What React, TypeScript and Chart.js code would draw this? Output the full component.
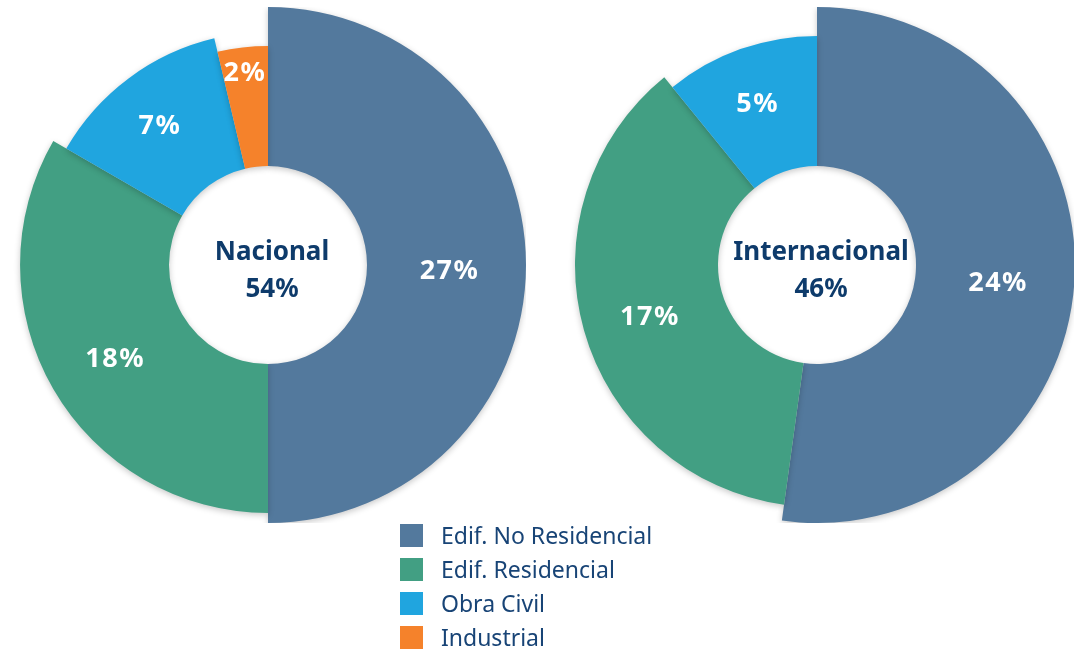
import React, { useEffect, useRef } from "react";
import { Chart, registerables } from "chart.js";

Chart.register(...registerables);

// ---- data ----
const categories = ["Edif. No Residencial", "Edif. Residencial", "Obra Civil", "Industrial"];
const nacionalValues = [27, 18, 7, 2];
const internacionalValues = [24, 17, 5];
const chartTitles = ["Nacional", "Internacional"];

// ---- style ----
const sliceColors = ["#53799d", "#429f83", "#20a5df", "#f5822b"];
const nacionalRadiusScale = [1, 0.961, 0.903, 0.849];
const internacionalRadiusScale = [1, 0.938, 0.888];
const NAVY = "#0e3b6b";
const FONT = "'Noto Sans', 'Open Sans', sans-serif";

function makeConfig(values: number[], radiusScale: number[], title: string) {
  const total = values.reduce((a, b) => a + b, 0);
  const varRadius = {
    id: "varRadius",
    afterDatasetsUpdate(chart: any) {
      const meta = chart.getDatasetMeta(0);
      meta.data.forEach((arc: any, i: number) => {
        const base = Math.min(chart.chartArea.width, chart.chartArea.height) / 2;
        arc.outerRadius = base * radiusScale[i];
      });
    },
  };
  const shadow = {
    id: "shadow",
    beforeDatasetsDraw(chart: any) {
      const ctx = chart.ctx;
      ctx.save();
      ctx.shadowColor = "rgba(0,0,0,0.22)";
      ctx.shadowBlur = 6;
      ctx.shadowOffsetX = 0;
      ctx.shadowOffsetY = 2;
    },
    afterDatasetsDraw(chart: any) {
      chart.ctx.restore();
    },
  };
  const labels = {
    id: "labels",
    afterDraw(chart: any) {
      const ctx = chart.ctx;
      const meta = chart.getDatasetMeta(0);
      ctx.save();
      ctx.textAlign = "center";
      ctx.textBaseline = "middle";
      ctx.fillStyle = "#ffffff";
      ctx.font = `bold 27px ${FONT}`;
      try { (ctx as any).letterSpacing = "1.5px"; } catch (e) {}
      meta.data.forEach((arc: any, i: number) => {
        const p = arc.getProps(["x", "y", "startAngle", "endAngle", "innerRadius", "outerRadius"], true);
        const mid = (p.startAngle + p.endAngle) / 2;
        const span = p.endAngle - p.startAngle;
        let r = (p.innerRadius + p.outerRadius) / 2 + 3;
        if (span < 0.35) r = p.outerRadius - 20;
        else if (span < 0.9) r = p.outerRadius - 52;
        const x = p.x + Math.cos(mid) * r;
        const y = p.y + Math.sin(mid) * r + 6;
        ctx.fillText(`${values[i]}%`, x, y);
      });
      try { (ctx as any).letterSpacing = "0px"; } catch (e) {}
      const c = meta.data[0];
      ctx.fillStyle = NAVY;
      ctx.font = `bold 26px ${FONT}`;
      ctx.fillText(title, c.x + 4, c.y - 12);
      ctx.fillText(`${total}%`, c.x + 4, c.y + 25);
      ctx.restore();
    },
  };
  return {
    type: "doughnut" as const,
    data: {
      labels: categories.slice(0, values.length),
      datasets: [
        {
          data: values,
          backgroundColor: sliceColors.slice(0, values.length),
          borderWidth: 0,
        },
      ],
    },
    options: {
      animation: false as const,
      responsive: false,
      maintainAspectRatio: false,
      events: [],
      cutout: 99,
      layout: { padding: 0 },
      plugins: {
        legend: { display: false },
        tooltip: { enabled: false },
      },
    },
    plugins: [varRadius, shadow, labels],
  };
}

function Donut({ values, radiusScale, title, left }: any) {
  const ref = useRef<HTMLCanvasElement>(null);
  useEffect(() => {
    const chart = new Chart(ref.current as HTMLCanvasElement, makeConfig(values, radiusScale, title) as any);
    return () => chart.destroy();
  }, []);
  return (
    <canvas
      ref={ref}
      width={516}
      height={516}
      style={{ position: "absolute", left, top: 7, width: 516, height: 516 }}
    />
  );
}

export default function App() {
  return (
    <div
      style={{
        position: "absolute",
        left: 0,
        top: 0,
        width: 1074,
        height: 650,
        overflow: "hidden",
        background: "#ffffff",
        fontFamily: FONT,
      }}
    >
      <Donut values={nacionalValues} radiusScale={nacionalRadiusScale} title={chartTitles[0]} left={10} />
      <Donut values={internacionalValues} radiusScale={internacionalRadiusScale} title={chartTitles[1]} left={559} />
      <div style={{ position: "absolute", left: 400, top: 518 }}>
        {categories.map((c, i) => (
          <div key={c} style={{ display: "flex", alignItems: "center", height: 34 }}>
            <div style={{ width: 23, height: 23, background: sliceColors[i], marginRight: 18 }} />
            <span style={{ fontSize: 23, color: "#184476", lineHeight: "34px" }}>{c}</span>
          </div>
        ))}
      </div>
    </div>
  );
}
